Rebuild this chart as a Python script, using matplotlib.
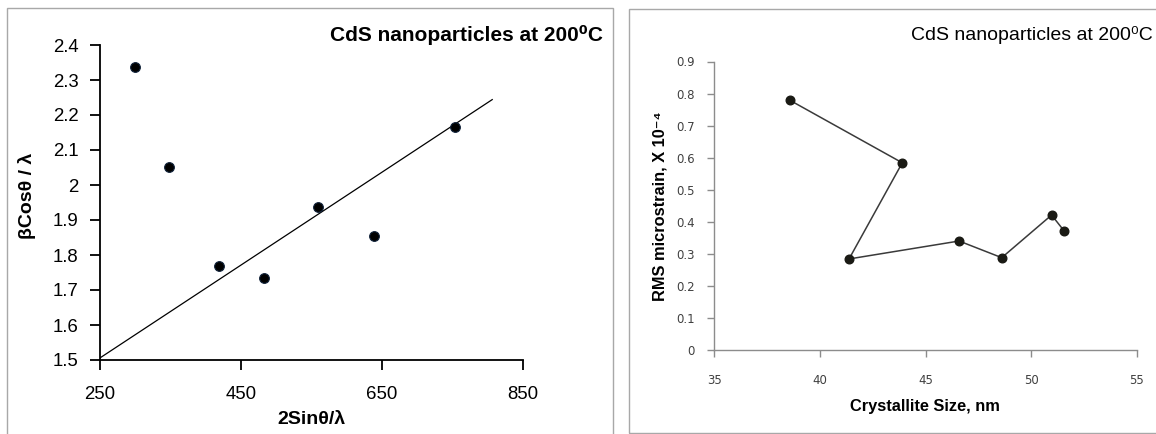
import matplotlib
matplotlib.use("Agg")
import matplotlib.pyplot as plt
from matplotlib.patches import Rectangle

plt.rcParams['font.family'] = ['Liberation Sans', 'DejaVu Sans']

# ---- data: Williamson-Hall plot ----
wh_x = [300.2, 348.3, 419.1, 482.8, 559.6, 638.9, 754.0]
wh_y = [2.336, 2.051, 1.769, 1.735, 1.938, 1.855, 2.167]
fit_x = [250, 806]
fit_y = [1.505, 2.244]
left_xticks = [250, 450, 650, 850]
left_yticks = [1.5, 1.6, 1.7, 1.8, 1.9, 2.0, 2.1, 2.2, 2.3, 2.4]

# ---- data: microstrain vs crystallite size ----
size_nm = [38.58, 43.9, 41.38, 46.59, 48.61, 50.97, 51.57]
strain = [0.779, 0.584, 0.284, 0.340, 0.288, 0.421, 0.371]
right_xticks = [35, 40, 45, 50, 55]
right_yticks = [0, 0.1, 0.2, 0.3, 0.4, 0.5, 0.6, 0.7, 0.8, 0.9]

W, H = 1156, 434
fig = plt.figure(figsize=(W / 100, H / 100), dpi=100)

def fx(px):
    return px / W

def fy(py):
    return 1 - py / H

# panel frames
fig.add_artist(Rectangle((fx(6.7), fy(440)), fx(613.3 - 6.7), (440 - 8) / H,
                         transform=fig.transFigure, fill=False,
                         edgecolor='#a8a8a8', lw=1.0))
fig.add_artist(Rectangle((fx(629), fy(433)), fx(1170 - 629), (433 - 9) / H,
                         transform=fig.transFigure, fill=False,
                         edgecolor='#a8a8a8', lw=1.0))

# ---------------- left panel ----------------
axL = fig.add_axes([fx(99.5), fy(360), fx(523.3 - 99.5), (360 - 45) / H])
axL.plot(fit_x, fit_y, color='black', lw=0.9)
axL.plot(wh_x, wh_y, 'o', color='black', ms=7, mec='#10223a', mew=0.8)
axL.set_xlim(250, 850)
axL.set_ylim(1.5, 2.4)
axL.set_xticks(left_xticks)
axL.set_yticks(left_yticks)
axL.set_xticklabels([f'{v:g}' for v in left_xticks])
axL.set_yticklabels([f'{v:g}' for v in left_yticks])
for s in ['top', 'right']:
    axL.spines[s].set_visible(False)
for s in ['left', 'bottom']:
    axL.spines[s].set_linewidth(1.3)
    axL.spines[s].set_color('black')
axL.tick_params(axis='both', direction='out', length=7, width=1.3,
                labelsize=13.4, colors='black')
axL.tick_params(axis='x', pad=12)
axL.tick_params(axis='y', pad=8)
axL.patch.set_alpha(0)

fig.text(fx(603), fy(35), 'CdS nanoparticles at 200\u2070C',
         ha='right', va='center', fontsize=15, fontweight='bold')
fig.text(fx(311), fy(420), '2Sinθ/λ', ha='center', va='center',
         fontsize=14, fontweight='bold')
fig.text(fx(27), fy(196), 'βCosθ / λ', ha='center', va='center',
         rotation=90, fontsize=14, fontweight='bold')

# ---------------- right panel ----------------
axR = fig.add_axes([fx(714.3), fy(350), fx(1136.7 - 714.3), (350 - 61.5) / H])
axR.plot(size_nm, strain, '-', color='#3a3a3a', lw=1.1)
axR.plot(size_nm, strain, 'o', color='#1a1a14', ms=6.2)
axR.set_xlim(35, 55)
axR.set_ylim(0, 0.9)
axR.set_xticks(right_xticks)
axR.set_yticks(right_yticks)
axR.set_xticklabels([f'{v:g}' for v in right_xticks], family='DejaVu Sans')
axR.set_yticklabels([f'{v:g}' for v in right_yticks], family='DejaVu Sans')
for s in ['top', 'right']:
    axR.spines[s].set_visible(False)
for s in ['left', 'bottom']:
    axR.spines[s].set_color('#8c8c8c')
    axR.spines[s].set_linewidth(1.0)
axR.tick_params(axis='both', direction='out', length=5, width=1.0,
                color='#8c8c8c', labelcolor='#404040', labelsize=8.5)
axR.tick_params(axis='x', pad=12)
axR.tick_params(axis='y', pad=9)
axR.patch.set_alpha(0)

fig.text(fx(1153), fy(35), 'CdS nanoparticles at 200\u2070C',
         ha='right', va='center', fontsize=14)
fig.text(fx(925), fy(407), 'Crystallite Size, nm', ha='center', va='center',
         fontsize=11.8, fontweight='bold')
fig.text(fx(660), fy(205.7), 'RMS microstrain, X 10\u207b\u2074',
         ha='center', va='center', rotation=90, fontsize=11.8,
         fontweight='bold')

fig.savefig('out.png', dpi=100)
